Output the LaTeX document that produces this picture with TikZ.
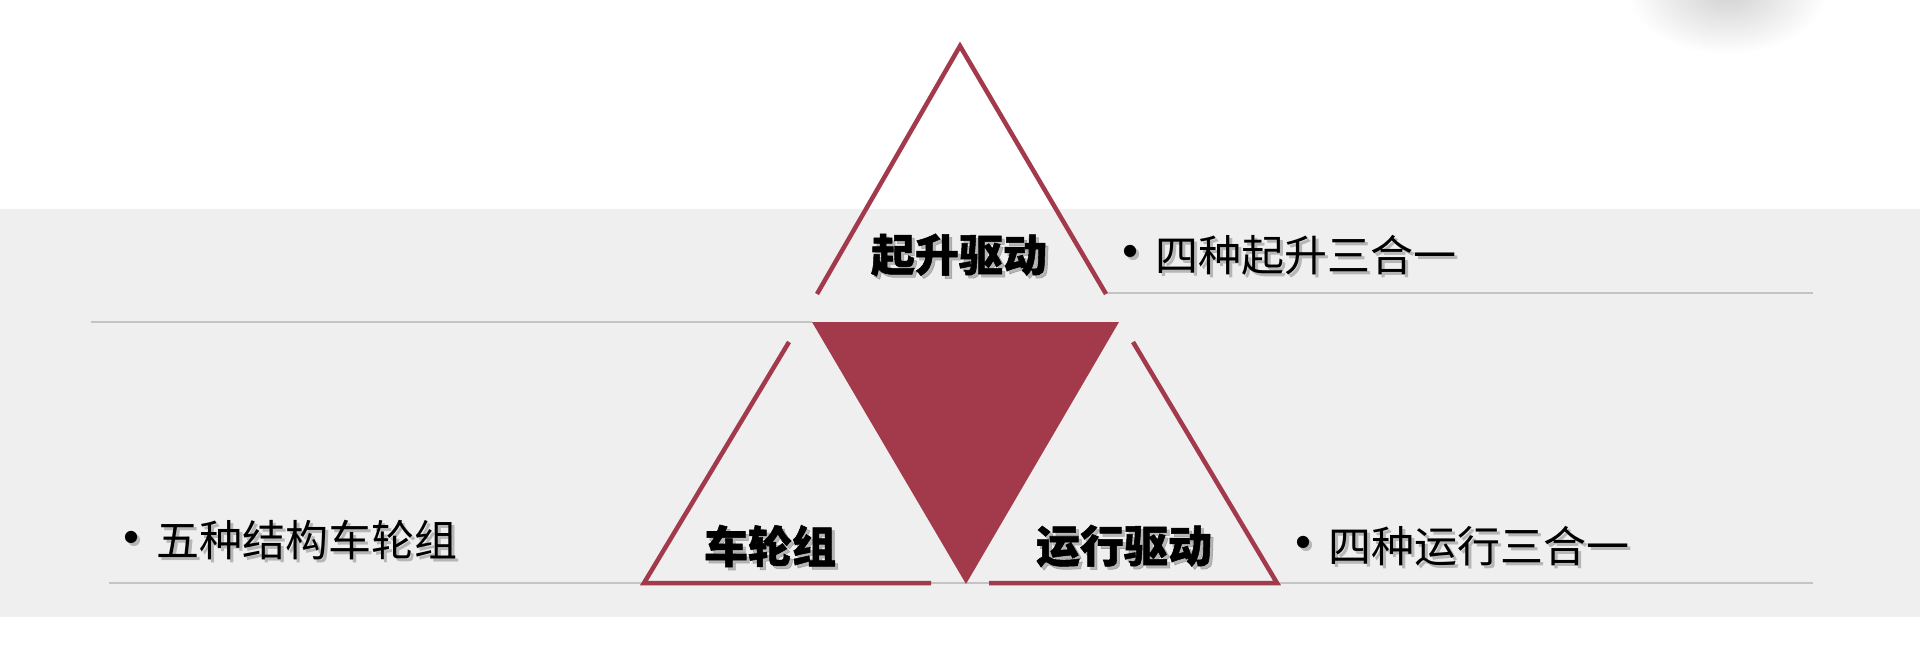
\documentclass[tikz,border=0pt]{standalone}
\usepackage{fontspec}
\newfontfamily\cjk[BoldFont={Noto Sans CJK SC Black},BoldFeatures={FakeBold=1.2}]{Noto Sans CJK SC}
\newcommand\shadowed[5]{%
  \node[#4, text=black!70, opacity=0.35] (#1s) at ({#2+3},{#3+3}) {#5};
  \node[#4] (#1) at (#2,#3) {#5};}
\newcommand\dotmark{\makebox[50pt][c]{\raisebox{-0.06em}{\scalebox{1.35}{•}}}}
\begin{document}
\begin{tikzpicture}[x=1pt,y=-1pt]
\definecolor{tri}{HTML}{A23A4B}
\definecolor{band}{HTML}{EFEFEF}
\definecolor{rulegray}{HTML}{C4C4C4}
\tikzset{
  trioutline/.style={draw=tri, line width=4.5pt, line join=miter},
  rulemark/.style={draw=rulegray, line width=1.1pt},
  head/.style={font=\cjk\bfseries\fontsize{44}{48}\selectfont, inner sep=0pt},
  item/.style={font=\cjk\fontsize{43}{48}\selectfont, inner sep=0pt, anchor=west},
}
\useasboundingbox (0,0) rectangle (1920,663);
\fill[white] (0,0) rectangle (1920,663);
\shade[inner color=black!18, outer color=white] (1727,-8) ellipse (100 and 62);
\fill[band] (0,209) rectangle (1920,617);
% rules
\draw[rulemark] (91,322) -- (812,322);
\draw[rulemark] (1106,293) -- (1813,293);
\draw[rulemark] (109,583) -- (1813,583);
% triangles
\draw[trioutline] (817,294) -- (960,46) -- (1106,294);
\fill[tri] (812,322) -- (1119,322) -- (966,584) -- cycle;
\draw[trioutline] (789,342) -- (644,583) -- (931,583);
\draw[trioutline] (1133,342) -- (1277,583) -- (989,583);
% labels
\shadowed{h1}{959}{255}{head}{起升驱动}
\shadowed{h2}{770}{546}{head}{车轮组}
\shadowed{h3}{1124}{546}{head}{运行驱动}
\shadowed{i1}{1105}{255}{item}{\dotmark 四种起升三合一}
\shadowed{i2}{106}{540}{item}{\dotmark 五种结构车轮组}
\shadowed{i3}{1278}{546}{item}{\dotmark 四种运行三合一}
\end{tikzpicture}
\end{document}
